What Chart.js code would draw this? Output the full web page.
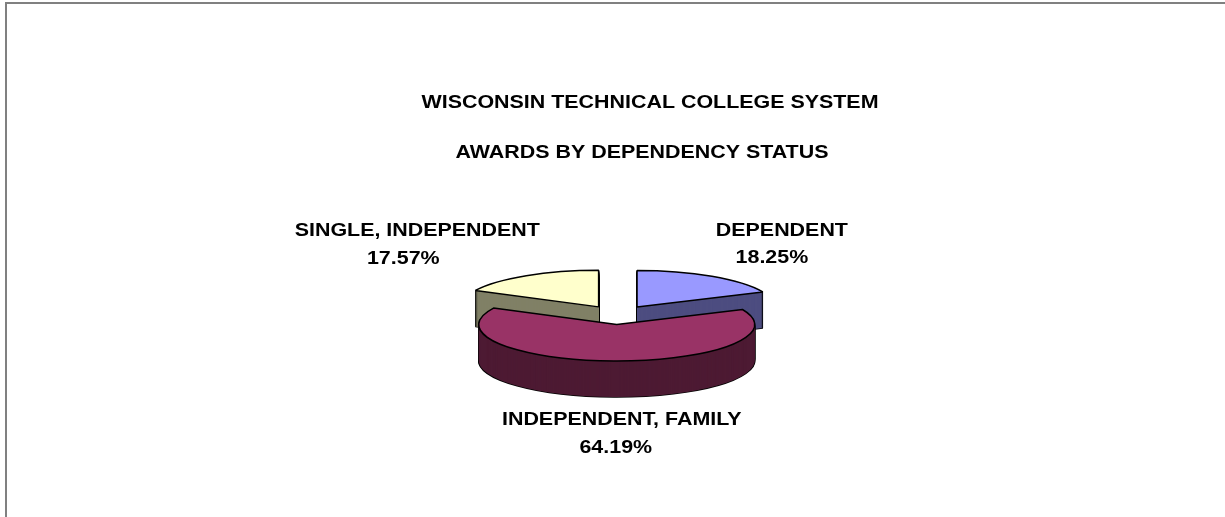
<!DOCTYPE html>
<html>
<head>
<meta charset="utf-8">
<style>
  html, body { margin: 0; padding: 0; background: #fff; overflow: hidden; }
  .frame {
    position: absolute; left: 5px; top: 2px; width: 1400px; height: 700px;
    border-top: 2px solid #808080; border-left: 2px solid #808080;
  }
  #awardsChart { position: absolute; left: 0; top: 0; }
</style>
</head>
<body>
<div class="frame"></div>
<canvas id="awardsChart" width="1225" height="517"></canvas>
<script src="https://cdn.jsdelivr.net/npm/chart.js@4.4.0/dist/chart.umd.min.js"></script>
<script>
  // chart data
  const titleLines = ["WISCONSIN TECHNICAL COLLEGE SYSTEM", "AWARDS BY DEPENDENCY STATUS"];
  const statusNames = ["DEPENDENT", "INDEPENDENT, FAMILY", "SINGLE, INDEPENDENT"];
  const statusShares = [18.25, 64.19, 17.57];

  // colors: top face and darker side wall per slice
  const topColors = ["#9999FF", "#993366", "#FFFFCC"];
  const sideColors = ["#4D4D80", "#4D1A33", "#808066"];

  const chartFont = "bold 18px 'Liberation Sans', Arial, sans-serif";
  const textStretch = 1.19;   // excel text is a bit wide

  // 3d look
  const tilt = 0.265;     // vertical squash of the pie
  const depth = 36;       // wall height in px
  const explode = 36;     // slice pull-out

  // label placement, offsets from the slice rim point [line1 dx, dy, line2 dx, dy]
  const labelOffsets = [
    [70, -40, 60, -13],
    [8, 28, 2, 56],
    [-109, -40, -123, -12]
  ];

  const midAngle = (a) => (a.startAngle + a.endAngle) / 2;

  function wideText(ctx, text, x, y) {
    ctx.save();
    ctx.translate(x, y);
    ctx.scale(textStretch, 1);
    ctx.fillText(text, 0, 0);
    ctx.restore();
  }

  const pie3d = {
    id: "pie3d",
    beforeDatasetsDraw(chart) {
      const ctx = chart.ctx;
      const arcs = chart.getDatasetMeta(0).data;
      const cy = arcs[0].y;
      chart.$cy = cy;

      // pull slices out along their bisector
      arcs.forEach((a) => {
        const m = midAngle(a);
        a.$home = [a.x, a.y];
        a.x += Math.cos(m) * explode;
        a.y += Math.sin(m) * explode;
      });

      // strokes in screen space so squashed outlines keep their width
      const baseStroke = CanvasRenderingContext2D.prototype.stroke;
      ctx.stroke = function () {
        this.save();
        this.resetTransform();
        baseStroke.apply(this, arguments);
        this.restore();
      };

      const squash = () => {
        ctx.translate(0, cy * (1 - tilt));
        ctx.scale(1, tilt);
      };

      const extrude = (el) => {
        for (let d = depth; d >= 1; d--) {
          ctx.save();
          ctx.translate(0, d);
          squash();
          el.draw(ctx);
          ctx.restore();
        }
      };

      // side walls, back slices first: outline pass then fill pass,
      // so only the silhouette of the wall keeps a black edge
      const order = arcs.map((a, i) => i)
        .sort((i, j) => Math.sin(midAngle(arcs[i])) - Math.sin(midAngle(arcs[j])));
      order.forEach((i) => {
        const edge = Object.create(arcs[i]);
        edge.options = Object.assign({}, arcs[i].options, {
          backgroundColor: "rgba(0,0,0,0)", borderColor: "#000", borderWidth: 1.5
        });
        const wall = Object.create(arcs[i]);
        wall.options = Object.assign({}, arcs[i].options, {
          backgroundColor: sideColors[i], borderWidth: 0
        });
        extrude(edge);
        extrude(wall);
      });

      // top faces are drawn by chart.js under this transform
      ctx.save();
      squash();
    },
    afterDatasetsDraw(chart) {
      const ctx = chart.ctx;
      ctx.restore();
      delete ctx.stroke;

      const cy = chart.$cy;
      const arcs = chart.getDatasetMeta(0).data;

      ctx.save();
      ctx.font = chartFont;
      ctx.fillStyle = "#000";
      ctx.textAlign = "center";
      ctx.textBaseline = "alphabetic";

      arcs.forEach((a, i) => {
        const m = midAngle(a);
        const r = a.outerRadius;
        const ax = a.x + Math.cos(m) * r;
        let ay = cy + (a.y + Math.sin(m) * r - cy) * tilt;
        if (Math.sin(m) > 0.5) ay += depth;
        const off = labelOffsets[i];
        wideText(ctx, statusNames[i], ax + off[0], ay + off[1]);
        wideText(ctx, statusShares[i].toFixed(2) + "%", ax + off[2], ay + off[3]);
      });

      // title
      wideText(ctx, titleLines[0], 650, 108);
      wideText(ctx, titleLines[1], 642, 158);
      ctx.restore();

      arcs.forEach((a) => {
        a.x = a.$home[0];
        a.y = a.$home[1];
      });
    }
  };

  const ctx = document.getElementById("awardsChart").getContext("2d");
  new Chart(ctx, {
    type: "pie",
    data: {
      labels: statusNames,
      datasets: [{
        data: statusShares,
        backgroundColor: topColors,
        borderColor: "#000",
        borderWidth: 1.5,
        radius: 138,
        clip: false
      }]
    },
    options: {
      responsive: false,
      animation: false,
      events: [],
      layout: { padding: { left: 10, right: 0, top: 113, bottom: 0 } },
      plugins: {
        legend: { display: false },
        tooltip: { enabled: false },
        title: { display: false }
      }
    },
    plugins: [pie3d]
  });
</script>
</body>
</html>
